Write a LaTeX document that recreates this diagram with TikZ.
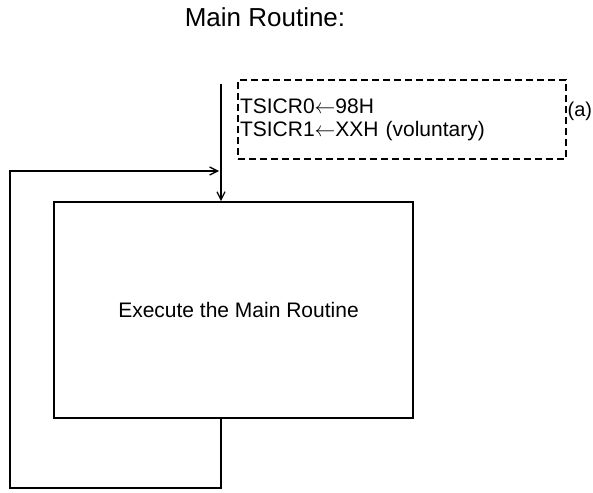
\documentclass[tikz,border=0pt]{standalone}
\usepackage{fontspec}
\setmainfont{Liberation Sans}
\usetikzlibrary{arrows.meta}

\begin{document}
\begin{tikzpicture}[x=1pt, y=-1pt, >={Straight Barb[length=8pt,width=8pt]}, line width=1.3pt,
    label/.style={font=\fontsize{21}{23}\selectfont, inner sep=0pt},
    routine/.style={draw, line width=1.6pt, minimum width=359pt, minimum height=216pt, inner sep=0pt},
    setup/.style={draw, dash pattern=on 7pt off 4pt, text width=324pt, minimum height=79pt, inner sep=2pt, align=left}]
    \useasboundingbox (0,0) rectangle (593,492);

    \node[label, font=\fontsize{26}{29}\selectfont, anchor=base] (title) at (265,27) {Main Routine:};
    \node[setup, label, inner sep=2pt] (init) at (402,119.5) {TSICR0$\leftarrow$98H\\TSICR1$\leftarrow$XXH (voluntary)};
    \node[label, font=\fontsize{20}{23}\selectfont, anchor=west] (taga) at (567,111) {(a)};
    \node[routine, label] (exec) at (233.5,310) {\hspace{10pt}Execute the Main Routine};

    \coordinate (start) at (221,84);
    \coordinate (loopleft) at (10,488);
    \coordinate (join) at (219,171);

    \draw[->] (start) -- (start |- exec.north);
    \draw[->] (exec.south -| start) |- (loopleft) |- (join);
\end{tikzpicture}
\end{document}
